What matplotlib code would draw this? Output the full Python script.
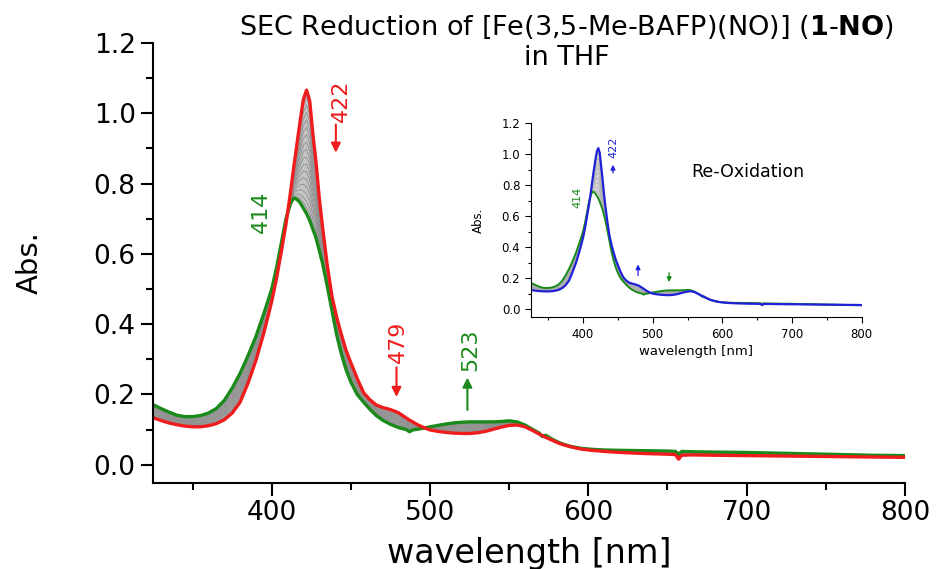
import matplotlib
matplotlib.use("Agg")
import matplotlib.pyplot as plt
from matplotlib.ticker import MultipleLocator
import numpy as np

# wavelength grid (nm) and spectra
wl = [325, 330, 335, 340, 345, 350, 355, 360, 365, 370, 375, 380, 385, 390, 395,
      400, 403, 406, 409, 412, 414, 416, 418, 420, 422, 424, 426, 428, 430, 432,
      435, 438, 441, 444, 447, 450, 454, 458, 462, 466, 470, 475, 480, 485, 487,
      489, 492, 496, 500, 505, 510, 515, 520, 525, 530, 535, 540, 545, 550, 555,
      560, 565, 569, 571, 573, 577, 582, 588, 595, 602, 610, 620, 635, 650, 655,
      657, 659, 665, 680, 700, 720, 740, 760, 780, 800]

# starting spectrum (1-NO), red
abs_start = [.134, .126, .119, .114, .110, .108, .108, .111, .117, .128, .147, .178, .232, .297, .375,
             .465, .530, .605, .685, .780, .850, .915, .980, 1.040, 1.066, 1.035, .940, .860, .760, .680,
             .570, .480, .420, .370, .325, .290, .245, .205, .185, .170, .163, .157, .148, .133, .127,
             .122, .114, .106, .099, .095, .092, .090, .089, .089, .091, .095, .101, .107, .112, .113,
             .108, .097, .087, .083, .078, .070, .060, .052, .045, .041, .038, .035, .032, .030, .029,
             .016, .027, .028, .027, .026, .025, .024, .023, .022, .021]

# reduced spectrum, green
abs_reduced = [.171, .160, .150, .141, .137, .137, .140, .147, .160, .183, .218, .260, .310, .365, .430,
               .500, .560, .630, .700, .745, .759, .755, .745, .730, .714, .695, .670, .645, .610, .575,
               .510, .440, .370, .315, .270, .235, .200, .178, .158, .140, .127, .115, .106, .100, .094,
               .099, .101, .104, .108, .112, .116, .119, .121, .122, .122, .122, .122, .123, .125, .122,
               .113, .100, .090, .080, .084, .073, .062, .053, .047, .044, .042, .041, .040, .039, .038,
               .030, .038, .037, .036, .035, .033, .031, .029, .027, .026]

# re-oxidised spectrum, blue (inset)
abs_reox = [.125, .121, .118, .116, .115, .115, .116, .119, .125, .136, .155, .185, .240, .300, .375,
            .460, .525, .605, .685, .780, .850, .910, .970, 1.020, 1.040, 1.010, .925, .845, .750, .670,
            .565, .475, .415, .365, .320, .285, .240, .205, .185, .172, .166, .160, .152, .138, .132,
            .126, .117, .108, .101, .097, .094, .092, .091, .091, .093, .097, .103, .109, .114, .116,
            .111, .100, .090, .086, .081, .072, .062, .054, .047, .043, .040, .038, .036, .035, .034,
            .026, .034, .034, .033, .032, .031, .030, .029, .028, .027]

# progress of the intermediate scans (grey)
scan_progress = [0.06, 0.12, 0.18, 0.24, 0.30, 0.36, 0.42, 0.48, 0.54, 0.60,
                 0.66, 0.72, 0.78, 0.84, 0.90, 0.95]
reox_progress = [0.1, 0.2, 0.3, 0.4, 0.5, 0.6, 0.7, 0.8, 0.9]

wl = np.array(wl)
a_red = np.array(abs_start)
a_green = np.array(abs_reduced)
a_blue = np.array(abs_reox)

RED = "#ee1c1c"
GREEN = "#1a8a1a"
BLUE = "#2020d8"

plt.close("all")
plt.style.use("default")
fig = plt.figure(figsize=(9.37, 5.69), dpi=100)

# ---------------- main plot ----------------
ax = fig.add_axes([0.1633, 0.1511, 0.8025, 0.7733])
ax.fill_between(wl, a_red, a_green, color="#c4c4c4", lw=0)
for p in scan_progress:
	ax.plot(wl, (1 - p) * a_red + p * a_green, color="#8e8e8e", lw=0.6)
ax.plot(wl, a_green, color=GREEN, lw=2.4)
ax.plot(wl, a_red, color=RED, lw=2.4)

ax.set_xlim(325, 800)
ax.set_ylim(-0.052, 1.2)
ax.spines["top"].set_visible(False)
ax.spines["right"].set_visible(False)
for s in ("left", "bottom"):
	ax.spines[s].set_linewidth(1.5)
ax.xaxis.set_major_locator(MultipleLocator(100))
ax.xaxis.set_minor_locator(MultipleLocator(50))
ax.yaxis.set_major_locator(MultipleLocator(0.2))
ax.yaxis.set_minor_locator(MultipleLocator(0.1))
ax.yaxis.set_major_formatter(plt.FormatStrFormatter("%.1f"))
ax.tick_params(which="major", direction="out", length=9, width=1.5, labelsize=19)
ax.tick_params(which="minor", direction="out", length=5, width=1.5)
ax.set_xlabel("wavelength [nm]", fontsize=24, labelpad=8)
ax.set_ylabel("Abs.", fontsize=21, labelpad=36)

ax.text(444, 1.036, "422", color=RED, rotation=90, fontsize=16, ha="center", va="center")
ax.annotate("", xy=(440.5, 0.88), xytext=(440.5, 0.976),
            arrowprops=dict(arrowstyle="-|>", color=RED, lw=1.5, mutation_scale=14))
ax.text(393, 0.72, "414", color=GREEN, rotation=90, fontsize=16, ha="center", va="center")
ax.text(479.6, 0.35, "479", color=RED, rotation=90, fontsize=16, ha="center", va="center")
ax.annotate("", xy=(478.8, 0.185), xytext=(478.8, 0.285),
            arrowprops=dict(arrowstyle="-|>", color=RED, lw=1.5, mutation_scale=14))
ax.text(525.5, 0.327, "523", color=GREEN, rotation=90, fontsize=16, ha="center", va="center")
ax.annotate("", xy=(523.6, 0.256), xytext=(523.6, 0.148),
            arrowprops=dict(arrowstyle="-|>", color=GREEN, lw=1.5, mutation_scale=14))

fig.text(0.605, 0.951, r"SEC Reduction of [Fe(3,5-Me-BAFP)(NO)] ($\mathbf{1}$-$\mathbf{NO}$)",
         fontsize=19.5, ha="center", va="center")
fig.text(0.605, 0.898, "in THF", fontsize=19.5, ha="center", va="center")

# ---------------- inset: re-oxidation ----------------
ins = fig.add_axes([0.5664, 0.4424, 0.3533, 0.3409])
ins.fill_between(wl, a_blue, a_green, color="#d6d6d6", lw=0)
for p in reox_progress:
	ins.plot(wl, (1 - p) * a_green + p * a_blue, color="#a8a8a8", lw=0.5)
ins.plot(wl, a_green, color=GREEN, lw=1.4)
ins.plot(wl, a_blue, color=BLUE, lw=1.6)

ins.set_xlim(325, 800)
ins.set_ylim(-0.052, 1.2)
ins.spines["top"].set_visible(False)
ins.spines["right"].set_visible(False)
for s in ("left", "bottom"):
	ins.spines[s].set_linewidth(0.8)
ins.xaxis.set_major_locator(MultipleLocator(100))
ins.xaxis.set_minor_locator(MultipleLocator(50))
ins.yaxis.set_major_locator(MultipleLocator(0.2))
ins.yaxis.set_minor_locator(MultipleLocator(0.1))
ins.yaxis.set_major_formatter(plt.FormatStrFormatter("%.1f"))
ins.tick_params(which="major", direction="out", length=4, width=0.8, labelsize=8.5)
ins.tick_params(which="minor", direction="out", length=2.5, width=0.8)
ins.set_xlabel("wavelength [nm]", fontsize=9.5, labelpad=3)
ins.set_ylabel("Abs.", fontsize=8.5, labelpad=12)

ins.text(637, 0.888, "Re-Oxidation", fontsize=12.5, ha="center", va="center")
ins.text(443.5, 1.044, "422", color=BLUE, rotation=90, fontsize=8, ha="center", va="center")
ins.annotate("", xy=(443, 0.95), xytext=(443, 0.862),
             arrowprops=dict(arrowstyle="-|>", color=BLUE, lw=0.9, mutation_scale=7))
ins.text(392, 0.724, "414", color=GREEN, rotation=90, fontsize=8, ha="center", va="center")
ins.annotate("", xy=(479, 0.307), xytext=(479, 0.2),
             arrowprops=dict(arrowstyle="-|>", color=BLUE, lw=0.9, mutation_scale=7))
ins.annotate("", xy=(523.6, 0.157), xytext=(523.6, 0.254),
             arrowprops=dict(arrowstyle="-|>", color=GREEN, lw=0.9, mutation_scale=7))

fig.savefig("out.png", dpi=100)
